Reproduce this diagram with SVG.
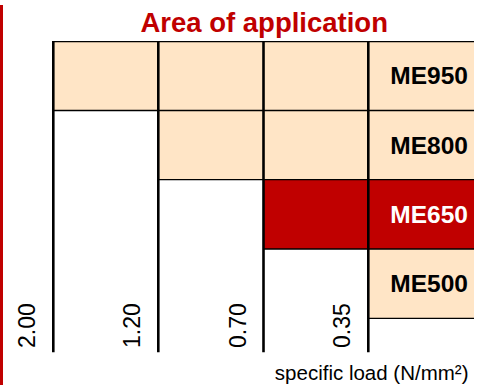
<svg xmlns="http://www.w3.org/2000/svg" width="484" height="385" viewBox="0 0 484 385">
<style>
.peach{fill:#FFE5C6}
.red{fill:#C00000}
.hl{stroke:#000;stroke-width:1.3;fill:none}
.vl{stroke:#000;stroke-width:2.6;fill:none}
.title{font-family:"Liberation Sans",Arial,sans-serif;font-weight:bold;font-size:27.5px;fill:#C00000}
.me{font-family:"Liberation Sans",Arial,sans-serif;font-weight:bold;font-size:24.5px;fill:#000;text-anchor:end}
.num{font-family:"Liberation Sans",Arial,sans-serif;font-size:23px;fill:#000}
.axis{font-family:"Liberation Sans",Arial,sans-serif;font-size:20.5px;fill:#000;text-anchor:end}
</style>
<rect class="red" x="0" y="5" width="3" height="380"/>
<text class="title" x="264.2" y="31.7" text-anchor="middle">Area of application</text>
<g id="cells">
<rect class="peach" x="53.3" y="41.7" width="420.7" height="68.8"/>
<rect class="peach" x="158.3" y="110.5" width="315.7" height="69.2"/>
<rect class="red" x="263.5" y="179.7" width="210.5" height="69.3"/>
<rect class="peach" x="368.3" y="249" width="105.7" height="69.3"/>
</g>
<g id="lines">
<line class="hl" x1="53.3" y1="41.7" x2="474" y2="41.7"/>
<line class="hl" x1="53.3" y1="110.5" x2="474" y2="110.5"/>
<line class="hl" x1="158.3" y1="179.7" x2="474" y2="179.7" stroke="#444"/>
<line class="hl" x1="263.5" y1="249" x2="474" y2="249"/>
<line class="hl" x1="368.3" y1="318.3" x2="474" y2="318.3"/>
<line class="vl" x1="53.3" y1="41" x2="53.3" y2="352.3"/>
<line class="vl" x1="158.3" y1="41" x2="158.3" y2="352.3"/>
<line class="vl" x1="263.5" y1="41" x2="263.5" y2="352.3"/>
<line class="vl" x1="368.3" y1="41" x2="368.3" y2="352.3"/>
</g>
<g id="ME950"><text class="me" x="468" y="84.3">ME950</text></g>
<g id="ME800"><text class="me" x="468" y="154">ME800</text></g>
<g id="ME650"><text class="me" x="468" y="222.8" style="fill:#fff">ME650</text></g>
<g id="ME500"><text class="me" x="468" y="292">ME500</text></g>
<g id="ticks">
<text class="num" transform="translate(35.3,348) rotate(-90)">2.00</text>
<text class="num" transform="translate(140.3,348) rotate(-90)">1.20</text>
<text class="num" transform="translate(245.5,348) rotate(-90)">0.70</text>
<text class="num" transform="translate(350.3,348) rotate(-90)">0.35</text>
</g>
<text class="axis" x="468.5" y="380">specific load (N/mm²)</text>
</svg>
